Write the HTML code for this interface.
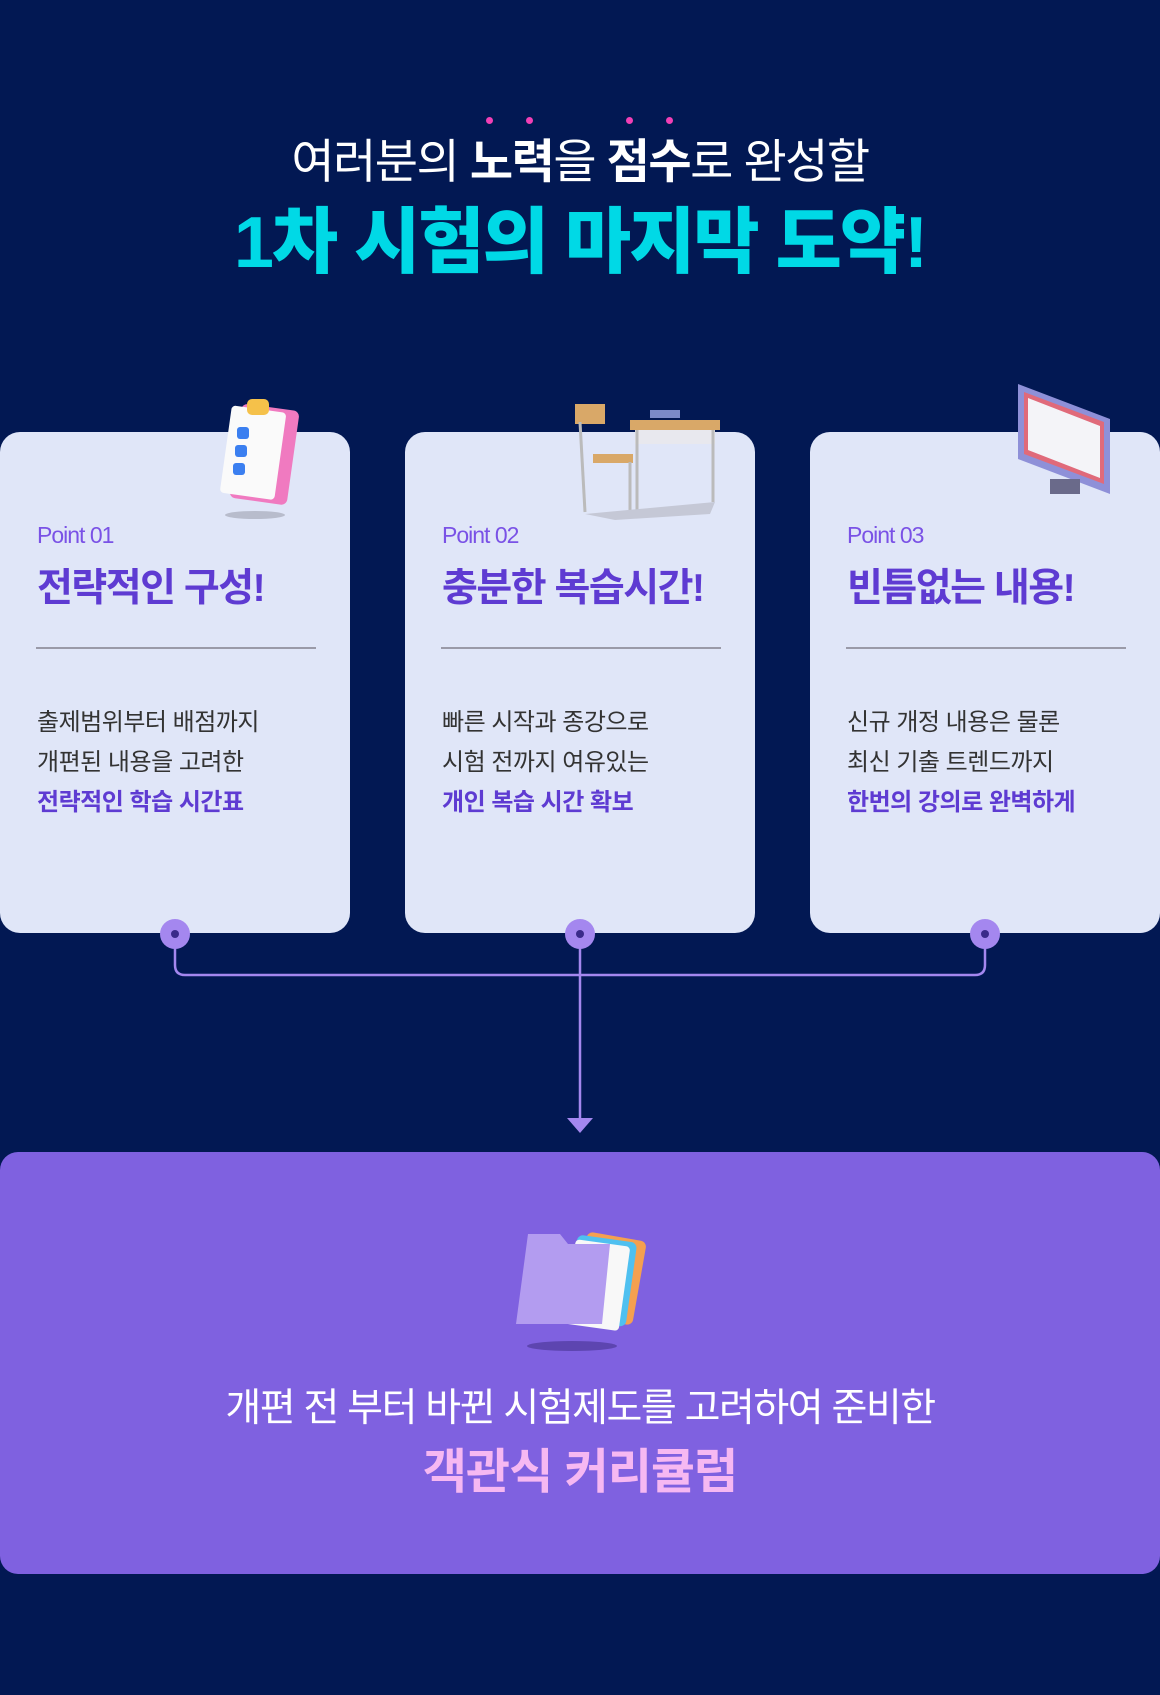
<!DOCTYPE html>
<html><head><meta charset="utf-8"><style>
*{margin:0;padding:0;box-sizing:border-box}
body{width:1160px;height:1695px;background:#021853;position:relative;overflow:hidden;font-family:"Liberation Sans","Noto Sans CJK KR",sans-serif}
.t{position:absolute;left:0;width:1160px;text-align:center;white-space:nowrap}
.dot{position:absolute;width:7px;height:7px;border-radius:50%;background:#f23fb5;top:117px}
.card{position:absolute;top:432px;width:350px;height:501px;background:#e0e6f8;border-radius:20px}
.card .p{position:absolute;left:37px;top:90px;font-size:23px;color:#7a52e6;letter-spacing:-1px}
.card .h{position:absolute;left:37px;top:125px;font-size:39px;font-weight:bold;color:#5e3bd2;letter-spacing:-1.5px;white-space:nowrap}
.card .ln{position:absolute;left:36px;width:280px;top:215px;height:2px;background:#9a9aa8}
.card .b{position:absolute;left:37px;top:271px;font-size:24px;line-height:40px;color:#333;letter-spacing:-0.5px;white-space:nowrap}
.card .b strong{color:#5e3bd2}
</style></head><body>
<div class="dot" style="left:486px"></div><div class="dot" style="left:526px"></div>
<div class="dot" style="left:626px"></div><div class="dot" style="left:666px"></div>
<div class="t" style="top:123px;font-size:47px;color:#fff;letter-spacing:-1.5px">여러분의 <b>노력</b>을 <b>점수</b>로 완성할</div>
<div class="t" style="top:183px;font-size:72px;font-weight:900;color:#00d9e6;letter-spacing:-2px">1차 시험의 마지막 도약!</div>

<div class="card" style="left:0">
<svg style="position:absolute;left:195px;top:-35px" width="110" height="125"><rect x="40" y="10" width="58" height="95" rx="6" fill="#f07ac0" transform="rotate(8 70 60)"/><rect x="30" y="12" width="55" height="88" rx="4" fill="#fafafa" transform="rotate(8 60 60)"/><rect x="52" y="2" width="22" height="16" rx="5" fill="#f5c14a"/><rect x="42" y="30" width="12" height="12" rx="3" fill="#3b7ff0"/><rect x="40" y="48" width="12" height="12" rx="3" fill="#3b7ff0"/><rect x="38" y="66" width="12" height="12" rx="3" fill="#3b7ff0"/><ellipse cx="60" cy="118" rx="30" ry="4" fill="#b8bccc"/></svg>
<div class="p">Point 01</div><div class="h">전략적인 구성!</div><div class="ln"></div>
<div class="b">출제범위부터 배점까지<br>개편된 내용을 고려한<br><strong>전략적인 학습 시간표</strong></div></div>

<div class="card" style="left:405px">
<svg style="position:absolute;left:170px;top:-30px" width="150" height="120"><rect x="55" y="18" width="90" height="10" fill="#d9a868"/><rect x="60" y="28" width="80" height="14" fill="#e8e8ee"/><line x1="62" y1="28" x2="62" y2="110" stroke="#bbb" stroke-width="3"/><line x1="138" y1="28" x2="138" y2="100" stroke="#bbb" stroke-width="3"/><rect x="0" y="2" width="30" height="20" fill="#d9a868"/><rect x="18" y="52" width="40" height="9" fill="#d9a868"/><line x1="5" y1="20" x2="10" y2="110" stroke="#bbb" stroke-width="3"/><line x1="55" y1="60" x2="55" y2="108" stroke="#bbb" stroke-width="3"/><rect x="75" y="8" width="30" height="8" fill="#7b8ac8"/><polygon points="10,112 140,100 135,112 40,118" fill="#c5c8d6"/></svg>
<div class="p">Point 02</div><div class="h">충분한 복습시간!</div><div class="ln"></div>
<div class="b">빠른 시작과 종강으로<br>시험 전까지 여유있는<br><strong>개인 복습 시간 확보</strong></div></div>

<div class="card" style="left:810px">
<svg style="position:absolute;left:200px;top:-48px" width="120" height="120"><polygon points="8,0 100,35 100,110 8,75" fill="#8e90d8"/><polygon points="14,8 94,38 94,100 14,70" fill="#e06a7a"/><polygon points="18,14 90,42 90,94 18,66" fill="#f4f4f8"/><rect x="40" y="95" width="30" height="15" fill="#6a6a8a"/></svg>
<div class="p">Point 03</div><div class="h">빈틈없는 내용!</div><div class="ln"></div>
<div class="b">신규 개정 내용은 물론<br>최신 기출 트렌드까지<br><strong>한번의 강의로 완벽하게</strong></div></div>

<svg style="position:absolute;left:0;top:915px" width="1160" height="230">
<path d="M175 19 V50 Q175 60 185 60 H975 Q985 60 985 50 V19" fill="none" stroke="#a487ef" stroke-width="2.5"/>
<line x1="580" y1="19" x2="580" y2="205" stroke="#a487ef" stroke-width="2.5"/>
<polygon points="567,203 593,203 580,218" fill="#a487ef"/>
<g fill="#a487ef"><circle cx="175" cy="19" r="15"/><circle cx="580" cy="19" r="15"/><circle cx="985" cy="19" r="15"/></g>
<g fill="#3a2a8a"><circle cx="175" cy="19" r="4"/><circle cx="580" cy="19" r="4"/><circle cx="985" cy="19" r="4"/></g>
</svg>

<div style="position:absolute;left:0;top:1152px;width:1160px;height:422px;background:#7f61e0;border-radius:18px"></div>
<svg style="position:absolute;left:510px;top:1228px" width="140" height="125"><rect x="70" y="8" width="60" height="85" rx="6" fill="#f5a050" transform="rotate(10 100 50)"/><rect x="62" y="10" width="60" height="85" rx="6" fill="#4fc0f0" transform="rotate(8 90 50)"/><rect x="60" y="15" width="55" height="85" rx="4" fill="#f8f8f8" transform="rotate(8 90 55)"/><path d="M18 6 H50 L58 16 H100 L92 96 H6 Z" fill="#b39cf0"/><ellipse cx="62" cy="118" rx="45" ry="5" fill="#5d45b0"/></svg>
<div class="t" style="top:1377px;font-size:39px;color:#fff;letter-spacing:-1.5px">개편 전 부터 바뀐 시험제도를 고려하여 준비한</div>
<div class="t" style="top:1432px;font-size:48px;font-weight:bold;color:#f6b8f2;letter-spacing:-1px">객관식 커리큘럼</div>
</body></html>
